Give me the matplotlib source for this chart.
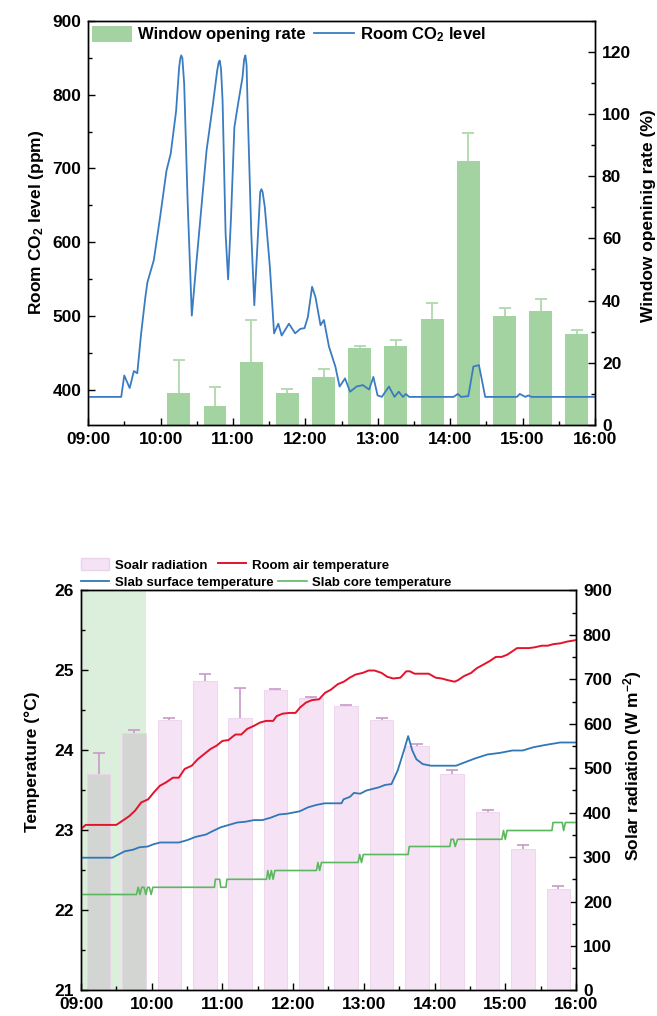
import numpy as np
import matplotlib
matplotlib.use("Agg")
import matplotlib.pyplot as plt
from matplotlib.ticker import MultipleLocator
from matplotlib.patches import Patch
from matplotlib.lines import Line2D

plt.rcParams["font.family"] = ["Liberation Sans", "DejaVu Sans"]
plt.rcParams["font.weight"] = "bold"
plt.rcParams["mathtext.default"] = "regular"

# shared time axis
hour_ticks = [9, 10, 11, 12, 13, 14, 15, 16]
hour_labels = ["09:00", "10:00", "11:00", "12:00", "13:00", "14:00", "15:00", "16:00"]

# top panel: window opening rate (%) and room CO2 (ppm)
win_time = ["10:15", "10:45", "11:15", "11:45", "12:15", "12:45",
            "13:15", "13:45", "14:15", "14:45", "15:15", "15:45"]
win_rate = [10.2, 6.2, 20.2, 10.3, 15.4, 24.8, 25.5, 34.0, 84.9, 35.2, 36.6, 29.4]
win_err = [10.8, 6.0, 13.6, 1.2, 2.5, 0.7, 1.9, 5.1, 9.1, 2.3, 3.8, 1.2]

# minutes after 09:00
co2_min = [0, 27.3, 29.8, 34.3, 37.8, 40.6, 43.8, 47.3, 49, 54.3,
           59.5, 64.8, 68.3, 72.8, 75.3, 76.2, 77, 78, 79.5, 82.3, 85.8, 89.3,
           94.5, 98, 103.3, 106.8, 108, 108.9, 110, 111.3, 113.8, 115.9, 118.3, 121.1,
           124.6, 127.8, 129.2, 130.2, 131.2, 132.3, 135.1, 137.6, 140.7, 142.5,
           143.5, 144.5, 146.3, 150.5,
           154, 157.5, 160.3, 166.3, 171.5, 175.7, 179.2, 182, 185.5, 188.3,
           192.5, 195.3, 199.5, 204.8, 208.3, 212.8, 217, 222.3, 227.5, 232.8,
           236.3, 239.8, 243.3, 249.2, 253.8, 257.3, 260.8, 263.2, 266, 302.8,
           306.3, 309, 315, 319.2, 323.8, 329, 355.3, 357.7, 362.3, 364.7,
           367.5, 420]
co2_ppm = [391, 391, 420, 403, 426, 423, 477, 526, 546, 576,
           634, 697, 720, 778, 837, 848, 853, 849, 814, 657, 501, 567,
           661, 724, 787, 832, 843, 846, 835, 792, 612, 550, 634, 756,
           792, 823, 848, 853, 840, 769, 612, 515, 612, 668,
           672, 668, 648, 567,
           477, 490, 474, 490, 477, 483, 484, 499, 540, 526,
           488, 495, 459, 432, 405, 416, 398, 405, 407, 401,
           418, 393, 391, 405, 391, 398, 391, 395, 391, 391,
           395, 391, 392, 432, 434, 391, 391, 395, 391, 393,
           391, 391]

# bottom panel: solar radiation (W/m2) and temperatures (degC)
sol_time = ["09:15", "09:45", "10:15", "10:45", "11:15", "11:45", "12:15",
            "12:45", "13:15", "13:45", "14:15", "14:45", "15:15", "15:45"]
solar = [487, 580, 609, 696, 614, 675, 659, 640, 608, 549, 487, 401, 318, 228]
solar_err = [47, 5, 3, 16, 67, 3, 2, 2, 6, 5, 8, 5, 10, 6]
span_time = ["09:00", "09:55"]

air_min = [0, 4, 30, 35, 41, 46, 51, 57, 62, 67, 72, 78, 83, 88, 94, 99, 104,
           110, 115, 120, 125, 131, 136, 141, 147, 152, 157, 163, 166, 171, 177,
           182, 186, 191, 196, 202, 207, 212, 218, 223, 228, 233, 239, 244, 249,
           255, 260, 265, 271, 276, 279, 283, 288, 295, 301, 306, 311, 317, 320,
           325, 331, 336, 341, 347, 352, 357, 362, 370, 380, 385, 391, 396, 401,
           407, 412, 420]
air_temp = [23.02, 23.07, 23.07, 23.12, 23.18, 23.25, 23.35, 23.39, 23.48, 23.56,
            23.60, 23.66, 23.66, 23.77, 23.81, 23.89, 23.95, 24.02, 24.06, 24.12,
            24.13, 24.20, 24.20, 24.27, 24.31, 24.35, 24.37, 24.37, 24.43, 24.46,
            24.47, 24.47, 24.54, 24.60, 24.63, 24.64, 24.72, 24.76, 24.83, 24.86,
            24.91, 24.95, 24.97, 25.00, 25.00, 24.97, 24.92, 24.90, 24.91, 24.99,
            24.99, 24.96, 24.96, 24.96, 24.91, 24.90, 24.88, 24.86, 24.88, 24.93,
            24.97, 25.03, 25.07, 25.12, 25.17, 25.17, 25.20, 25.28, 25.28, 25.29,
            25.31, 25.31, 25.33, 25.34, 25.36, 25.38]

surf_min = [0, 26.5, 31.8, 37.1, 44.2, 49.5, 56.6, 61.9, 67.2, 83.1, 90.2, 97.2,
            106.1, 111.4, 118.5, 125.5, 132.6, 139.7, 146.7, 153.8, 160.9, 168,
            175, 185.6, 192.7, 199.8, 206.9, 221, 222.8, 228.1, 231.6, 236.9,
            242.2, 247.5, 252.8, 258.1, 263.4, 268.7, 274, 277.6, 281.1, 284.6,
            290, 297, 318.2, 325.3, 334.2, 344.8, 355.4, 366, 374.8, 383.6,
            394.3, 406.6, 420]
surf_temp = [22.66, 22.66, 22.70, 22.74, 22.76, 22.79, 22.80, 22.83, 22.85, 22.85,
             22.88, 22.92, 22.95, 22.99, 23.04, 23.07, 23.10, 23.11, 23.13, 23.13,
             23.16, 23.20, 23.21, 23.24, 23.29, 23.32, 23.34, 23.34, 23.39, 23.42,
             23.47, 23.46, 23.50, 23.52, 23.54, 23.57, 23.58, 23.75, 24.00, 24.18,
             24.00, 23.89, 23.83, 23.81, 23.81, 23.85, 23.90, 23.95, 23.97, 24.00,
             24.00, 24.04, 24.07, 24.10, 24.10]

core_min = [0, 47, 48.5, 50, 51.5, 53.5, 55, 56.5, 58, 59.5, 61, 113.2, 114,
            117.7, 118.5, 123, 123.8, 157.4, 158.5, 160, 161.5, 163, 164.5, 199.8,
            201, 202.5, 204, 235.1, 236.5, 238, 239.5, 277.6, 278.5, 313, 314,
            316, 317.5, 319.5, 357.1, 358.5, 360, 361.5, 399.6, 400.5, 408.4,
            409.5, 411, 420]
core_temp = [22.20, 22.20, 22.29, 22.20, 22.29, 22.29, 22.20, 22.29, 22.29, 22.20,
             22.29, 22.29, 22.39, 22.39, 22.29, 22.29, 22.39, 22.39, 22.50, 22.39,
             22.50, 22.39, 22.50, 22.50, 22.60, 22.50, 22.60, 22.60, 22.70, 22.60,
             22.70, 22.70, 22.80, 22.80, 22.89, 22.89, 22.80, 22.89, 22.89, 23.00,
             22.89, 23.00, 23.00, 23.10, 23.10, 23.00, 23.10, 23.10]


def to_hours(t):
    h, m = t.split(":")
    return int(h) + int(m) / 60


def from_minutes(mins):
    return 9 + np.asarray(mins, dtype=float) / 60


def style_axes(ax, axr, ymaj, ymin, rmaj, rmin):
    ax.set_xticks(hour_ticks, hour_labels)
    ax.xaxis.set_minor_locator(MultipleLocator(0.5))
    ax.yaxis.set_major_locator(MultipleLocator(ymaj))
    ax.yaxis.set_minor_locator(MultipleLocator(ymin))
    axr.yaxis.set_major_locator(MultipleLocator(rmaj))
    axr.yaxis.set_minor_locator(MultipleLocator(rmin))
    for a in (ax, axr):
        a.tick_params(which="major", direction="in", length=5, width=1.0,
                      labelsize=12.5, pad=5)
        a.tick_params(which="minor", direction="in", length=2.8, width=1.0)
        for s in a.spines.values():
            s.set_linewidth(1.0)


fig = plt.figure(figsize=(6.57, 10.16), dpi=100)

# ---------------- top panel ----------------
green_bar = "#a3d3a1"
co2_blue = "#3a7cc2"

ax1 = fig.add_axes([0.1344, 0.5817, 0.7712, 0.398])
ax1r = ax1.twinx()
ax1.set_zorder(ax1r.get_zorder() + 1)
ax1.patch.set_visible(False)

x_win = [to_hours(t) for t in win_time]
ax1r.bar(x_win, win_rate, width=19 / 60, color=green_bar, zorder=2)
eb = ax1r.errorbar(x_win, win_rate, yerr=[np.zeros(len(win_err)), win_err],
                   fmt="none", ecolor="#b3dcb1", elinewidth=1.4, capsize=4.5,
                   capthick=1.4, zorder=3)
eb[1][0].set_visible(False)

ax1.plot(from_minutes(co2_min), co2_ppm, color=co2_blue, lw=1.3)

ax1.set_xlim(9, 16)
ax1.set_ylim(353, 900)
ax1r.set_ylim(0, 130)
style_axes(ax1, ax1r, 100, 50, 20, 10)

ax1.set_ylabel("Room CO$_2$ level (ppm)", fontsize=12.5, fontweight="bold", va="center")
ax1.yaxis.set_label_coords(-0.102, 0.5)
ax1r.set_ylabel("Window openinig rate (%)", fontsize=12.5, fontweight="bold", va="center")
ax1r.yaxis.set_label_coords(1.105, 0.517)

ax1.legend([Patch(facecolor=green_bar), Line2D([], [], color=co2_blue, lw=1.3)],
           ["Window opening rate", "Room CO$_2$ level"],
           loc="upper left", bbox_to_anchor=(0.008, 0.988), ncol=2, frameon=False,
           prop=dict(size=12, weight="bold"), handlelength=2.4, handleheight=1.1,
           handletextpad=0.35, columnspacing=0.5, borderpad=0, borderaxespad=0)

# ---------------- bottom panel ----------------
pink = np.array([245, 227, 245]) / 255
span_green = np.array([220, 239, 220]) / 255
red = "#e3132b"
surf_blue = "#2f77b6"
core_green = "#5cb85f"

ax2 = fig.add_axes([0.1233, 0.0251, 0.7534, 0.3937])
ax2r = ax2.twinx()
ax2.set_zorder(ax2r.get_zorder() + 1)
ax2.patch.set_visible(False)

span = [to_hours(t) for t in span_time]
ax2r.axvspan(span[0], span[1], color=span_green, lw=0, zorder=0)

x_sol = [to_hours(t) for t in sol_time]
# bars under the shaded period look like a multiply blend of pink and green
bar_colors = [tuple(pink * span_green) if span[0] <= x <= span[1] else tuple(pink)
              for x in x_sol]
ax2r.bar(x_sol, solar, width=20 / 60, color=bar_colors, edgecolor="#ecd3ec",
         lw=0.6, zorder=2)
eb2 = ax2r.errorbar(x_sol, solar, yerr=[np.zeros(len(solar_err)), solar_err],
                    fmt="none", ecolor="#c79bc7", elinewidth=1.2, capsize=4.5,
                    capthick=1.2, zorder=3)
eb2[1][0].set_visible(False)

ax2.plot(from_minutes(air_min), air_temp, color=red, lw=1.4)
ax2.plot(from_minutes(surf_min), surf_temp, color=surf_blue, lw=1.3)
ax2.plot(from_minutes(core_min), core_temp, color=core_green, lw=1.2)

ax2.set_xlim(9, 16)
ax2.set_ylim(21, 26)
ax2r.set_ylim(0, 900)
style_axes(ax2, ax2r, 1, 0.5, 100, 50)

ax2.set_ylabel("Temperature (°C)", fontsize=12.5, fontweight="bold", va="center")
ax2.yaxis.set_label_coords(-0.099, 0.571)
ax2r.set_ylabel("Solar radiation (W m$^{-2}$)", fontsize=12.5, fontweight="bold", va="center")
ax2r.yaxis.set_label_coords(1.115, 0.561)

leg_kw = dict(loc="center left", ncol=2, frameon=False,
              prop=dict(size=9.5, weight="bold"), handlelength=2.15,
              handleheight=1.05, handletextpad=0.43, borderpad=0, borderaxespad=0)
leg_a = ax2.legend([Patch(facecolor=pink, edgecolor="#ecd3ec"),
                    Line2D([], [], color=red, lw=1.4)],
                   ["Soalr radiation", "Room air temperature"],
                   bbox_to_anchor=(0.0, 1.0645), columnspacing=0.76, **leg_kw)
ax2.add_artist(leg_a)
ax2.legend([Line2D([], [], color=surf_blue, lw=1.3),
            Line2D([], [], color=core_green, lw=1.2)],
           ["Slab surface temperature", "Slab core temperature"],
           bbox_to_anchor=(0.0, 1.021), columnspacing=0.36, **leg_kw)

fig.savefig("out.png", dpi=100)
